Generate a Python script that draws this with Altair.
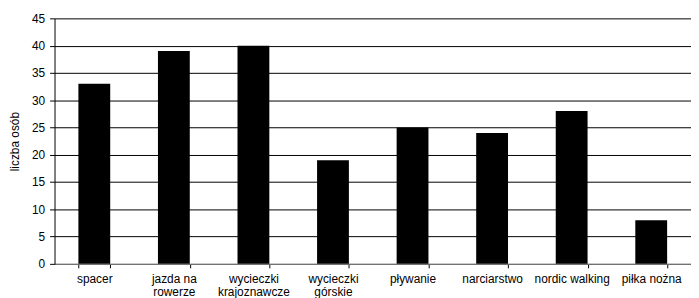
import altair as alt
import pandas as pd

categories = ["spacer", "jazda na|rowerze", "wycieczki|krajoznawcze", "wycieczki|górskie",
              "pływanie", "narciarstwo", "nordic walking", "piłka nożna"]
values = [33, 39, 40, 19, 25, 24, 28, 8]

df = pd.DataFrame({"kategoria": categories, "liczba": values})

chart = alt.Chart(df).mark_bar(color="#000000").encode(
    x=alt.X("kategoria:N", sort=categories, title=None,
            scale=alt.Scale(paddingInner=0.6, paddingOuter=0.3),
            axis=alt.Axis(labelAngle=0, labelExpr="split(datum.label, '|')",
                          tickBand="extent", tickSize=4, tickColor="#000000",
                          domainColor="#808080", labelPadding=6,
                          labelLineHeight=13)),
    y=alt.Y("liczba:Q", title="liczba osób",
            scale=alt.Scale(domain=[0, 45], nice=False),
            axis=alt.Axis(values=list(range(0, 50, 5)), tickSize=5,
                          tickColor="#000000", domainColor="#000000",
                          grid=True, gridColor="#000000", gridOpacity=1,
                          labelPadding=5, titlePadding=10)),
).properties(
    width=643, height=248,
    autosize=alt.AutoSizeParams(type="none"),
    padding={"left": 47, "top": 9, "right": 0, "bottom": 33},
).configure_axis(
    labelFont="Liberation Sans", titleFont="Liberation Sans",
    labelFontSize=12, titleFontSize=12, titleFontWeight="normal",
    labelColor="#000000", titleColor="#000000",
).configure_view(stroke=None)

chart.save("out.html", embed_options={"renderer": "svg", "actions": False})
